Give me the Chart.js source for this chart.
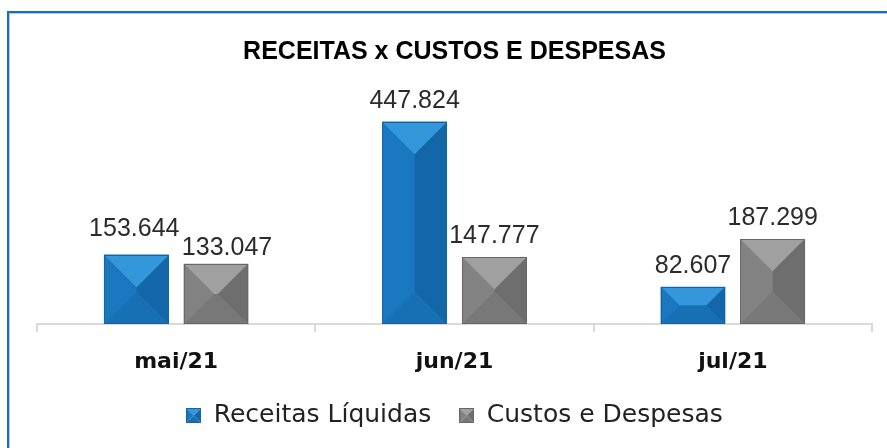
<!DOCTYPE html>
<html>
<head>
<meta charset="utf-8">
<script src="https://cdn.jsdelivr.net/npm/chart.js@4.4.0/dist/chart.umd.min.js"></script>
<style>
  html, body { margin: 0; padding: 0; background: #fff; }
  #wrap { width: 887px; height: 448px; position: relative; }
</style>
</head>
<body>
<div id="wrap"><canvas id="myChart" width="887" height="448"></canvas></div>
<script>
var categories = ['mai/21', 'jun/21', 'jul/21'];
var receitas = [153644, 447824, 82607];
var custos = [133047, 147777, 187299];
var seriesNames = ['Receitas Líquidas', 'Custos e Despesas'];

// bevel shades: base, top, left, right, bottom, outline
var blueShade = ['#1a74bb', '#3496db', '#1a78c0', '#1367a8', '#1770b4', '#1464a2'];
var grayShade = ['#7b7b7b', '#a0a0a0', '#828282', '#6e6e6e', '#787878', '#686868'];

function fmt(v) {
  return String(v).replace(/\B(?=(\d{3})+(?!\d))/g, '.');
}

function bevel(ctx, x0, y0, x1, y1, c) {
  var w = x1 - x0, h = y1 - y0;
  var d = Math.min(w, h) / 2;
  var ix0 = x0 + d, ix1 = x1 - d, iy0 = y0 + d, iy1 = y1 - d;
  function poly(pts, col) {
    ctx.beginPath();
    ctx.moveTo(pts[0][0], pts[0][1]);
    for (var i = 1; i < pts.length; i++) ctx.lineTo(pts[i][0], pts[i][1]);
    ctx.closePath();
    ctx.fillStyle = col;
    ctx.fill();
  }
  ctx.save();
  poly([[x0, y0], [x1, y0], [ix1, iy0], [ix0, iy0]], c[1]);
  poly([[x1, y0], [x1, y1], [ix1, iy1], [ix1, iy0]], c[3]);
  poly([[x1, y1], [x0, y1], [ix0, iy1], [ix1, iy1]], c[4]);
  poly([[x0, y1], [x0, y0], [ix0, iy0], [ix0, iy1]], c[2]);
  ctx.strokeStyle = c[5];
  ctx.lineWidth = 1;
  ctx.strokeRect(x0 + 0.5, y0 + 0.5, w - 1, h - 1);
  ctx.restore();
}

function legendIcon(c) {
  var cv = document.createElement('canvas');
  cv.width = 15; cv.height = 15;
  bevel(cv.getContext('2d'), 0, 0, 15, 15, c);
  return cv;
}

var framePlugin = {
  id: 'frame',
  beforeDraw: function (chart) {
    var ctx = chart.ctx;
    ctx.save();
    ctx.fillStyle = '#fff';
    ctx.fillRect(0, 0, chart.width, chart.height);
    ctx.fillStyle = '#1b6db5';
    ctx.fillRect(7, 11, chart.width - 7, 2);
    ctx.fillRect(7, 11, 2, chart.height - 11);
    ctx.fillStyle = '#a9cdee';
    ctx.fillRect(9, 13, chart.width - 9, 1);
    ctx.fillRect(9, 13, 1, chart.height - 13);
    ctx.restore();
  }
};

var bevelPlugin = {
  id: 'bevelBars',
  afterDatasetsDraw: function (chart) {
    var ctx = chart.ctx;
    chart.data.datasets.forEach(function (ds, di) {
      var shade = di === 0 ? blueShade : grayShade;
      chart.getDatasetMeta(di).data.forEach(function (bar, i) {
        var p = bar.getProps(['x', 'y', 'base', 'width'], true);
        bevel(ctx, Math.round(p.x - p.width / 2), Math.round(p.y), Math.round(p.x + p.width / 2), Math.round(p.base), shade);
        // value label
        var nudge = (chart.options.plugins.bevelBars.nudges[i] || [])[di] || [0, 0];
        ctx.save();
        ctx.font = '25px "Liberation Sans", Arial, sans-serif';
        ctx.fillStyle = '#2b2b2b';
        ctx.textAlign = 'center';
        ctx.textBaseline = 'alphabetic';
        ctx.fillText(fmt(ds.data[i]), p.x + nudge[0], p.y - 14 + nudge[1]);
        ctx.restore();
      });
    });
  }
};

var ctx = document.getElementById('myChart');
var chart = new Chart(ctx, {
  type: 'bar',
  data: {
    labels: categories,
    datasets: [{
      label: seriesNames[0],
      data: receitas,
      backgroundColor: blueShade[0],
      pointStyle: legendIcon(blueShade)
    }, {
      label: seriesNames[1],
      data: custos,
      backgroundColor: grayShade[0],
      pointStyle: legendIcon(grayShade)
    }]
  },
  options: {
    responsive: false,
    animation: false,
    categoryPercentage: 0.573,
    barPercentage: 0.8125,
    layout: { padding: { left: 37, right: 15, top: 0, bottom: 10 } },
    scales: {
      x: {
        grid: { display: true, drawOnChartArea: false, drawTicks: true, tickLength: 8, color: '#d9d9d9', lineWidth: 2 },
        border: { display: true, color: '#d9d9d9', width: 2 },
        ticks: { color: '#111', padding: 17, font: { family: 'DejaVu Sans', size: 22, weight: 'bold' } },
        afterFit: function (scale) { scale.height = 51; }
      },
      y: { display: false, min: 0, max: 500000 }
    },
    plugins: {
      title: {
        display: true,
        text: 'RECEITAS x CUSTOS E DESPESAS',
        color: '#000',
        font: { family: 'Liberation Sans', size: 25, weight: 'bold' },
        padding: { top: 37, bottom: 31 }
      },
      legend: {
        position: 'bottom',
        labels: {
          usePointStyle: true,
          pointStyleWidth: 15,
          padding: 28,
          color: '#222',
          font: { family: 'DejaVu Sans', size: 25 }
        }
      },
      tooltip: { enabled: false },
      bevelBars: { nudges: [[[-2, -5], [11, 5]]] }
    }
  },
  plugins: [framePlugin, bevelPlugin]
});
</script>
</body>
</html>
